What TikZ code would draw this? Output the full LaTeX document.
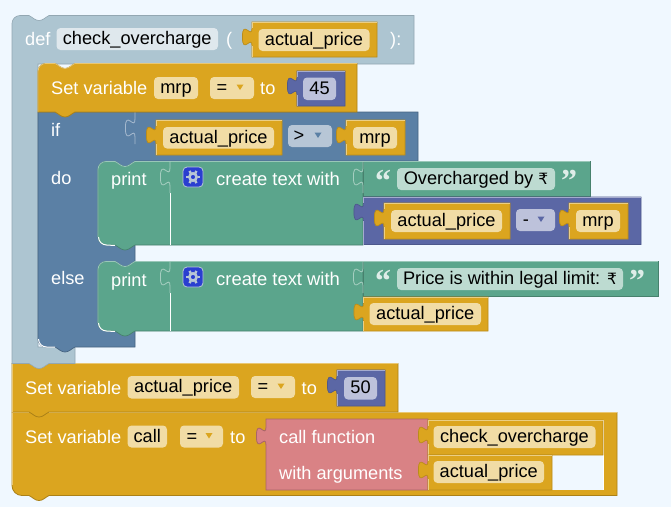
\documentclass[tikz,border=0pt]{standalone}
\usepackage{fontspec}
\setmainfont{Liberation Sans}
\newfontfamily\quotefont{Liberation Serif}[BoldFont={Liberation Serif Bold}]
\newfontfamily\rupeefont{DejaVu Sans}
\newcommand\rupee{{\rupeefont\fontsize{15.5}{15.5}\selectfont ₹}}
\definecolor{bgc}{HTML}{F0F8FF}
\definecolor{gold}{HTML}{DBA51F}
\definecolor{goldf}{HTML}{F1DCA5}
\definecolor{defc}{HTML}{ADC5D1}
\definecolor{deff}{HTML}{DFE8ED}
\definecolor{logic}{HTML}{5B80A5}
\definecolor{logicf}{HTML}{B7C6D6}
\definecolor{mathc}{HTML}{5B67A5}
\definecolor{mathf}{HTML}{BDC2DB}
\definecolor{textc}{HTML}{5BA58C}
\definecolor{textf}{HTML}{BDDBD1}
\definecolor{procc}{HTML}{D98285}
\definecolor{gearc}{HTML}{2A3FD0}
\tikzset{
  x=1pt,y=-1pt,
  lab/.style={text=white,anchor=base west,inner sep=0pt,font=\fontsize{18.2}{18}\selectfont},
  val/.style={text=black,anchor=base,inner sep=0pt,font=\fontsize{18.2}{18}\selectfont},
  quotemark/.style={text=white,anchor=base,inner sep=0pt,opacity=.8,font=\quotefont\bfseries\fontsize{32}{32}\selectfont},
}
% left edge tab, travelling upwards from (#1,#2)
\def\uptab#1#2{-- (#1,#2) .. controls (#1,#2-12) and (#1-9.6,#2+9.6) .. (#1-9.6,#2-9) .. controls (#1-9.6,#2-27.6) and (#1,#2-6) .. (#1,#2-18) }
% notch in a top edge (left to right), #1 = block left, #2 = y
\def\topnotch#1#2{-- (#1+17,#2) .. controls (#1+21,#2+2) and (#1+23,#2+5) .. (#1+27,#2+5) .. controls (#1+31,#2+5) and (#1+33,#2+2) .. (#1+37,#2) }
% same notch on a bottom edge (right to left)
\def\bottab#1#2{-- (#1+37,#2) .. controls (#1+33,#2+2) and (#1+31,#2+5) .. (#1+27,#2+5) .. controls (#1+23,#2+5) and (#1+21,#2+2) .. (#1+17,#2) }
% highlight on the top and left edges of a statement block: x1 y1 x2 y2 colour
\newcommand\edgehl[5]{%
  \draw[#5!62!white,line width=.8pt] (#1,#4) -- (#1,#2+8) arc[start angle=180,end angle=270,radius=8] \topnotch{#1}{#2} -- (#3,#2);
}
% value block with a left tab: x1 y1 x2 y2 colour
\newcommand\valblk[5]{%
  \fill[#5,draw=#5!85!black,line width=.7pt] (#1,#2) -- (#3,#2) -- (#3,#4) -- (#1,#4) \uptab{#1}{#2+24} -- cycle;
  \draw[#5!55!white,line width=.8pt] (#1,#4) -- (#1,#2+24) (#1,#2+6) -- (#1,#2) -- (#3,#2);
}
% field: name x1 y1 x2 y2 fill text
\newcommand\fieldbox[7]{%
  \fill[#6,rounded corners=4pt] (#2,#3) rectangle (#4,#5);
  \node[val] (#1) at ({(#2+#4)/2},#3+16.5) {#7};
}
% dropdown: name x1 y1 x2 fill symbol symbolx triangle colour
\newcommand\dropbox[8]{%
  \fill[#5,rounded corners=4pt] (#2,#3) rectangle (#4,#3+22);
  \node[val] (#1) at (#7,#3+16.5) {#6};
  \fill[#8] (#4-17.5,#3+7.5) -- (#4-10.5,#3+7.5) -- (#4-14,#3+13) -- cycle;
}
\newcommand\socket[3]{\draw[#3,line width=.8pt] (#1,#2+7) \uptab{#1}{#2} -- (#1,#2-25);}
\newcommand\gearicon[3]{%
  \fill[gearc,draw=#3,line width=.8pt,rounded corners=4pt] (#1-10,#2-10) rectangle (#1+10,#2+10);
  \draw[#3,line width=2.6pt] (#1,#2) circle[radius=3.6];
  \foreach \a in {0,60,...,300}{\draw[#3,line width=2.4pt] ({#1+4.5*cos(\a)},{#2+4.5*sin(\a)}) -- ({#1+7*cos(\a)},{#2+7*sin(\a)});}
}
\begin{document}
\begin{tikzpicture}
\useasboundingbox (0,0) rectangle (671,507);
\fill[bgc] (0,0) rectangle (671,507);

% --- Set variable call
\fill[gold,draw=gold!78!black,line width=.8pt] (12,412.5) -- (617,412.5) -- (617,495.5) \bottab{12}{495.5} -- (22,495.5) arc[start angle=90,end angle=180,radius=10] -- cycle;
\draw[gold!62!white,line width=.8pt] (12,485) -- (12,412.5) -- (617,412.5);
\fill[bgc] (552,455) rectangle (603,490);
\draw[white,line width=.8pt] (428,420) -- (603,420) -- (603,490);
\node[lab] (setcall) at (25,443.5) {Set variable};
\fieldbox{callv}{127.5}{425.5}{167}{447.5}{goldf}{call}
\dropbox{calleq}{180}{425.5}{223}{goldf}{=}{192}{gold}
\node[lab] (callto) at (230,443.5) {to};
\fill[procc,draw=procc!78!black,line width=.8pt] (266,419) -- (428,419) -- (428,490) -- (266,490) \uptab{266}{445} -- cycle;
\node[lab] (callfn) at (279,443.5) {call function};
\node[lab] (witharg) at (279,479) {with arguments};
\valblk{428}{420}{603}{455}{gold}
\fieldbox{fname}{433.5}{426}{595.5}{448}{goldf}{check\_overcharge}
\valblk{428}{455}{552}{490}{gold}
\fieldbox{arg}{433.5}{461}{544}{483}{goldf}{actual\_price}

% --- Set variable actual_price
\fill[gold,draw=gold!78!black,line width=.8pt] (12,363.5) -- (398,363.5) -- (398,412) \bottab{12}{412} -- (12,412) -- cycle;
\draw[gold!62!white,line width=.8pt] (12,412) -- (12,363.5) -- (398,363.5);
\node[lab] (setap) at (25,394.5) {Set variable};
\fieldbox{apv}{127.5}{376}{239}{398.5}{goldf}{actual\_price}
\dropbox{apeq}{251}{376}{295}{goldf}{=}{263}{gold}
\node[lab] (apto) at (301.5,394.5) {to};
\valblk{337}{370}{385}{406}{mathc}
\fieldbox{fifty}{344}{377}{377}{399.5}{mathf}{50}

% --- def block
\fill[defc,draw=defc!85!black,line width=.6pt] (20,15.5) \topnotch{12}{15.5} -- (414,15.5) -- (414,64) -- (38,64) -- (38,347) -- (75,347) -- (75,363.5) \bottab{12}{363.5} -- (12,363.5) -- (12,23.5) arc[start angle=180,end angle=270,radius=8] -- cycle;
\node[lab] (def) at (25,45) {def};
\fieldbox{dname}{56.5}{28}{218}{50}{deff}{check\_overcharge}
\node[lab] (lpar) at (226,45) {(};
\valblk{252}{22}{377}{57}{gold}
\fieldbox{dparam}{258.5}{29}{369.5}{51}{goldf}{actual\_price}
\node[lab] (rpar) at (390,45) {):};

% --- if block
\fill[logic,draw=logic!78!black,line width=.7pt] (38,112) -- (418,112) -- (418,161) -- (135,161) -- (135,347) \bottab{38}{347} -- (46,347) arc[start angle=90,end angle=180,radius=8] -- cycle;
\draw[white,line width=1pt] (38.5,339) arc[start angle=180,end angle=90,radius=8] -- (55,347);
\socket{135}{137}{logic!55!white}
\node[lab] (if) at (51,136) {if};
\node[lab] (do) at (51,184) {do};
\node[lab] (else) at (51,284) {else};
\valblk{156}{120}{282}{155}{gold}
\fieldbox{ifa}{163}{127}{274}{148.5}{goldf}{actual\_price}
\dropbox{ifop}{288}{125}{332}{logicf}{>}{299}{logic}
\valblk{346}{120}{405}{155}{gold}
\fieldbox{ifb}{353}{127}{397}{148.5}{goldf}{mrp}

% --- print (do)
\fill[textc,draw=textc!78!black,line width=.7pt] (106,161.5) \topnotch{98}{161.5} -- (363,161.5) -- (363,245) \bottab{98}{245} -- (106,245) arc[start angle=90,end angle=180,radius=8] -- (98,169.5) arc[start angle=180,end angle=270,radius=8] -- cycle;
\draw[white,line width=1pt] (98.5,237) arc[start angle=180,end angle=90,radius=8] -- (115,245.5);
\edgehl{98}{161.5}{363}{237}{textc}
\draw[white,line width=.8pt] (170,245) -- (170,193);
\socket{170}{186}{textc!55!white}
\node[lab] (pr1) at (111,185) {print};
\gearicon{193}{177}{logicf}
\node[lab,font=\fontsize{18.4}{18}\selectfont] (ct1) at (216,185) {create text with};
% text literal
\fill[textc,draw=textc!78!black,line width=.7pt] (363,161.5) -- (590,161.5) -- (590,196) -- (363,196) -- cycle;
\draw[textc!62!white,line width=.8pt] (363,161.5) -- (590,161.5);
\socket{363}{186}{textc!55!white}
\node[quotemark] (q1) at (383,191) {“};
\fieldbox{t1}{397}{168}{555}{190}{textf}{Overcharged by \rupee}
\node[quotemark] (q2) at (569,191) {”};
% minus block
\valblk{363.5}{197}{641}{244.5}{mathc}
\valblk{384}{203}{510}{239}{gold}
\fieldbox{ma}{391}{210}{502}{232}{goldf}{actual\_price}
\dropbox{mop}{516}{209}{555}{mathf}{-}{526}{mathc}
\valblk{569}{203}{628}{239}{gold}
\fieldbox{mb}{576}{210}{620}{232}{goldf}{mrp}

% --- print (else)
\fill[textc,draw=textc!78!black,line width=.7pt] (106,261.5) \topnotch{98}{261.5} -- (363,261.5) -- (363,331) \bottab{98}{331} -- (106,331) arc[start angle=90,end angle=180,radius=8] -- (98,269.5) arc[start angle=180,end angle=270,radius=8] -- cycle;
\draw[white,line width=1pt] (98.5,323) arc[start angle=180,end angle=90,radius=8] -- (115,331.5);
\edgehl{98}{261.5}{363}{323}{textc}
\draw[white,line width=.8pt] (170,331) -- (170,293);
\socket{170}{286}{textc!55!white}
\node[lab] (pr2) at (111,286) {print};
\gearicon{193}{277}{logicf}
\node[lab,font=\fontsize{18.4}{18}\selectfont] (ct2) at (216,285) {create text with};
\fill[textc,draw=textc!78!black,line width=.7pt] (363,261.5) -- (658,261.5) -- (658,296) -- (363,296) -- cycle;
\draw[textc!62!white,line width=.8pt] (363,261.5) -- (658,261.5);
\socket{363}{286}{textc!55!white}
\node[quotemark] (q3) at (383,291) {“};
\fieldbox{t2}{397}{268}{623}{290}{textf}{Price is within legal limit: \rupee}
\node[quotemark] (q4) at (637,291) {”};
\valblk{363.5}{297}{488}{331}{gold}
\fieldbox{ea}{369.5}{303}{481}{325}{goldf}{actual\_price}

% --- Set variable mrp
\fill[gold,draw=gold!78!black,line width=.8pt] (46,63.5) \topnotch{38}{63.5} -- (357,63.5) -- (357,112) \bottab{38}{112} -- (38,112) -- (38,71.5) arc[start angle=180,end angle=270,radius=8] -- cycle;
\edgehl{38}{63.5}{357}{112}{gold}
\node[lab] (setm) at (51,94) {Set variable};
\fieldbox{mv}{154}{77}{198}{99}{goldf}{mrp}
\dropbox{meq}{210}{77}{254}{goldf}{=}{222}{gold}
\node[lab] (mto) at (260,94) {to};
\valblk{297}{71}{345}{106}{mathc}
\fieldbox{ff}{303}{77.5}{336}{100}{mathf}{45}
\end{tikzpicture}
\end{document}
